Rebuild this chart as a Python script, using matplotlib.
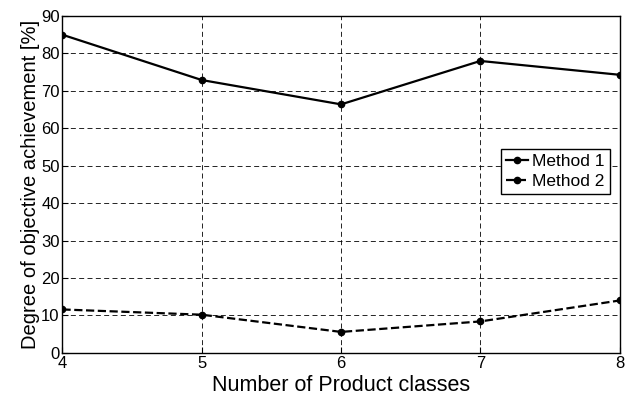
import matplotlib
matplotlib.use('Agg')
import matplotlib.pyplot as plt

# Daten
classes = [4, 5, 6, 7, 8]
method1 = [85.0, 72.9, 66.4, 78.0, 74.3]
method2 = [11.6, 10.2, 5.6, 8.4, 14.0]

plt.rcParams['font.family'] = ['Liberation Sans', 'DejaVu Sans']

fig = plt.figure(figsize=(6.31, 4.01), dpi=100)
ax = fig.add_axes([0.099, 0.12, 0.883, 0.84])

ax.plot(classes, method1, '-', color='black', lw=1.6, marker='o', ms=4.5, label='Method 1')
ax.plot(classes, method2, '--', color='black', lw=1.6, marker='o', ms=4.5, label='Method 2')

ax.set_xlim(4, 8)
ax.set_ylim(0, 90)
ax.set_xticks(classes)
ax.set_yticks(range(0, 91, 10))
ax.grid(True, color='black', linestyle=(0, (6, 4)), linewidth=0.6)
ax.tick_params(direction='in', labelsize=12, length=4, pad=2)
for s in ax.spines.values():
    s.set_linewidth(1.0)

ax.set_xlabel('Number of Product classes', fontsize=15.5, labelpad=3)
ax.set_ylabel('Degree of objective achievement [%]', fontsize=14.5, labelpad=1)

leg = ax.legend(loc='upper right', bbox_to_anchor=(0.982, 0.605), borderaxespad=0,
                fancybox=False, framealpha=1, edgecolor='black', fontsize=12.5,
                handlelength=1.3, handletextpad=0.2, borderpad=0.3, labelspacing=0.25)
leg.get_frame().set_linewidth(1.0)

fig.savefig('out.png', dpi=100)
